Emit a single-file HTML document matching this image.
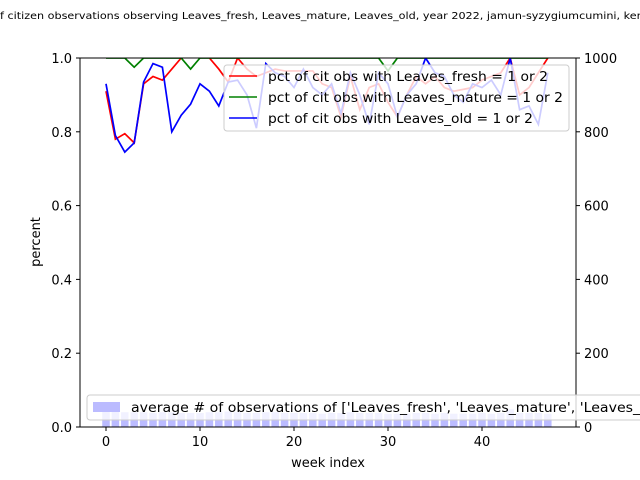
<!DOCTYPE html>
<html><head><meta charset="utf-8"><style>
body{margin:0;background:#fff}
svg{display:block;font-family:"DejaVu Sans","Liberation Sans",sans-serif}
</style></head><body>
<svg width="640" height="480" viewBox="0 0 640 480">
<defs><clipPath id="plotclip"><rect x="80" y="58" width="496" height="369"/></clipPath></defs>
<text x="0" y="19" font-size="9.7" textLength="658" lengthAdjust="spacingAndGlyphs">f citizen observations observing Leaves_fresh, Leaves_mature, Leaves_old, year 2022, jamun-syzygiumcumini, kerala</text>
<g id="bars" clip-path="url(#plotclip)"></g>
<g id="lines" clip-path="url(#plotclip)"></g>
<rect x="80" y="58" width="496" height="369" fill="none" stroke="#000" stroke-width="1"/>
<g id="axes" font-size="13"></g>
<text x="328" y="467" font-size="13" text-anchor="middle">week index</text>
<text transform="translate(40,242) rotate(-90)" font-size="13" text-anchor="middle">percent</text>
<g>
<rect x="224" y="65" width="345" height="66" rx="3" fill="#fff" fill-opacity="0.8" stroke="#ccc"/>
<line x1="229" y1="76" x2="257" y2="76" stroke="red" stroke-width="1.5"/>
<text x="268" y="81" font-size="13" textLength="280" lengthAdjust="spacingAndGlyphs">pct of cit obs with Leaves_fresh = 1 or 2</text>
<line x1="229" y1="97" x2="257" y2="97" stroke="green" stroke-width="1.5"/>
<text x="268" y="102" font-size="13" textLength="295" lengthAdjust="spacingAndGlyphs">pct of cit obs with Leaves_mature = 1 or 2</text>
<line x1="229" y1="118" x2="257" y2="118" stroke="blue" stroke-width="1.5"/>
<text x="268" y="123" font-size="13" textLength="265" lengthAdjust="spacingAndGlyphs">pct of cit obs with Leaves_old = 1 or 2</text>
</g>
<g>
<rect x="87" y="395" width="600" height="25" rx="3" fill="#fff" fill-opacity="0.8" stroke="#ccc"/>
<rect x="93" y="402" width="27" height="10" fill="#bbbbff"/>
<text x="131" y="412" font-size="13" textLength="540" lengthAdjust="spacingAndGlyphs">average # of observations of ['Leaves_fresh', 'Leaves_mature', 'Leaves_old']</text>
</g>
</svg>
<script>
const weeks=[...Array(48).keys()];
const fresh=[0.91,0.78,0.795,0.77,0.93,0.95,0.94,0.97,1.0,1.02,1.03,1.0,0.97,0.935,1.0,0.97,0.95,0.96,0.97,0.965,0.965,0.965,0.965,0.93,0.92,0.84,0.95,0.86,0.92,0.93,0.88,0.84,0.9,0.95,0.93,0.95,0.92,0.91,0.915,0.92,0.94,0.95,0.96,1.0,0.9,0.92,0.96,1.0];
const mature=[1,1,1,0.975,1,1,1,1,1,0.97,1,1,1,1,1,1,1,1,1,1,1,1,1,1,1,1,1,1,1,1,0.965,1,1,1,1,1,1,1,1,1,1,1,1,1,1,1,1,1];
const old=[0.93,0.79,0.745,0.77,0.935,0.985,0.975,0.80,0.845,0.875,0.93,0.91,0.87,0.935,0.94,0.90,0.81,0.985,0.96,0.95,0.92,0.97,0.92,0.90,0.93,0.85,0.96,0.90,0.82,0.96,0.93,0.84,0.90,0.93,1.0,0.96,0.95,0.90,0.88,0.93,0.92,0.94,0.90,1.0,0.86,0.87,0.82,0.96];
const counts=[50,50,40,40,40,38,40,40,38,38,38,40,40,42,40,38,38,40,40,38,38,38,38,36,38,38,40,38,38,38,36,36,36,38,38,36,38,36,36,36,38,36,38,48,38,38,38,36];
const xTicks=[0,10,20,30,40];
const yTicks=[0,0.2,0.4,0.6,0.8,1.0];
const rTicks=[0,200,400,600,800,1000];
const X=w=>106+w*9.4, Y=v=>427-v*369, R=c=>427-c*0.369;
const NS='http://www.w3.org/2000/svg';
function mk(t,a,p){const e=document.createElementNS(NS,t);for(const k in a)e.setAttribute(k,a[k]);p.appendChild(e);return e;}
const bars=document.getElementById('bars');
weeks.forEach((w,i)=>{const r=mk('rect',{x:X(w)-3.76,y:R(counts[i]),width:7.52,height:427-R(counts[i]),fill:'#bbbbff'},bars);

});
const lines=document.getElementById('lines');
[[fresh,'red','fresh-line'],[mature,'green','mature-line'],[old,'blue','old-line']].forEach(([d,c,n])=>{
const p=mk('polyline',{points:d.map((v,i)=>X(weeks[i])+','+Y(v)).join(' '),fill:'none',stroke:c,'stroke-width':1.7},lines);

});
const ax=document.getElementById('axes');
xTicks.forEach(t=>{mk('line',{x1:X(t),x2:X(t),y1:427,y2:431,stroke:'#000'},ax);
const e=mk('text',{x:X(t),y:446,'text-anchor':'middle'},ax);e.textContent=t;

});
yTicks.forEach(t=>{mk('line',{x1:76,x2:80,y1:Y(t),y2:Y(t),stroke:'#000'},ax);
const e=mk('text',{x:72,y:Y(t)+5,'text-anchor':'end'},ax);e.textContent=t.toFixed(1);

});
rTicks.forEach(t=>{mk('line',{x1:576,x2:580,y1:R(t),y2:R(t),stroke:'#000'},ax);
const e=mk('text',{x:584,y:R(t)+5},ax);e.textContent=t;

});
</script>
</body></html>
